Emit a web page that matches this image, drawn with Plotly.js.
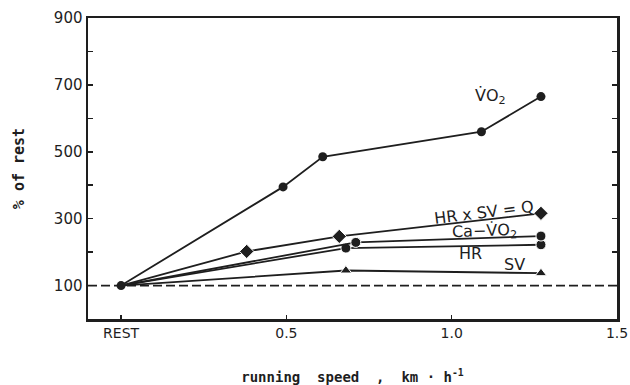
<!DOCTYPE html>
<html>
<head>
<meta charset="utf-8">
<script src="https://cdn.plot.ly/plotly-3.0.1.min.js"></script>
<style>html,body{margin:0;padding:0;background:#fff;}#chart{width:630px;height:385px;}</style>
</head>
<body>
<div id="chart"></div>
<script>
// ---- data ----
const speedVO2 = [0, 0.49, 0.61, 1.09, 1.27];
const vo2      = [100, 395, 485, 560, 665];
const speedQ   = [0, 0.38, 0.66, 1.27];
const cardiacQ = [100, 202, 247, 316];
const speedCa  = [0, 0.71, 1.27];
const caVO2    = [100, 229, 248];
const speedHR  = [0, 0.68, 1.27];
const hr       = [100, 212, 222];
const speedSV  = [0, 0.68, 1.27];
const sv       = [100, 145, 137];
const restLevel = [100, 100];
const restSpan  = [-0.1, 1.5];

const xTickVals = [0, 0.5, 1.0, 1.5];
const xTickText = ["REST", "0.5", "1.0", "1.5"];
const yTickVals = [100, 300, 500, 700, 900];
const yTickText = ["100", "300", "500", "700", "900"];

const ink = "#1e1e1e";
function hideFirst(n, s) { return Array.from({length: n}, (_, i) => i === 0 ? 0 : s); }

const traces = [
  {x: restSpan, y: restLevel, mode: "lines", line: {color: ink, width: 1.8, dash: "9px,4px"}, hoverinfo: "skip"},
  {x: speedSV, y: sv, mode: "lines+markers", line: {color: ink, width: 1.8},
   marker: {symbol: "triangle-up", size: hideFirst(speedSV.length, 10), color: ink, opacity: 1}},
  {x: speedHR, y: hr, mode: "lines+markers", line: {color: ink, width: 1.8},
   marker: {symbol: "circle", size: hideFirst(speedHR.length, 10), color: ink, opacity: 1}},
  {x: speedCa, y: caVO2, mode: "lines+markers", line: {color: ink, width: 1.8},
   marker: {symbol: "circle", size: hideFirst(speedCa.length, 10), color: ink, opacity: 1}},
  {x: speedQ, y: cardiacQ, mode: "lines+markers", line: {color: ink, width: 1.8},
   marker: {symbol: "diamond", size: hideFirst(speedQ.length, 11), color: ink, opacity: 1}},
  {x: speedVO2, y: vo2, mode: "lines+markers", line: {color: ink, width: 1.8},
   marker: {symbol: "circle", size: 9, color: ink, opacity: 1}}
];

const labFont = {family: "DejaVu Sans", size: 16, color: ink};
const layout = {
  width: 630, height: 385,
  margin: {l: 88, r: 13, t: 18, b: 66},
  paper_bgcolor: "#fff", plot_bgcolor: "#fff",
  showlegend: false,
  font: {family: "DejaVu Sans", color: ink},
  xaxis: {
    range: [-0.1, 1.5], tickvals: xTickVals, ticktext: xTickText,
    ticks: "inside", ticklen: 4, tickwidth: 1.5, tickcolor: ink,
    showline: true, linecolor: ink, linewidth: 2.5, mirror: true,
    showgrid: false, zeroline: false,
    tickfont: {family: "DejaVu Sans", size: 14, color: ink},
    title: {text: "running  speed  ,  km · h<sup>-1</sup>", standoff: 32,
            font: {family: "DejaVu Sans Mono", size: 14, color: ink, weight: "bold"}}
  },
  yaxis: {
    range: [0, 900], tickvals: yTickVals, ticktext: yTickText,
    ticks: "inside", ticklen: 5, tickwidth: 1.5, tickcolor: ink,
    minor: {tick0: 0, dtick: 100, ticks: "inside", ticklen: 5, tickwidth: 1.5, tickcolor: ink, showgrid: false},
    showline: true, linecolor: ink, linewidth: 2.5, mirror: "ticks",
    showgrid: false, zeroline: false,
    tickfont: {family: "DejaVu Sans", size: 15, color: ink},
    title: {text: "% of rest", standoff: 26,
            font: {family: "DejaVu Sans Mono", size: 15, color: ink, weight: "bold"}}
  },
  annotations: [
    {x: 1.116, y: 664, xref: "x", yref: "y", text: "V\u0307O<sub>2</sub>", showarrow: false, font: labFont},
    {x: 1.097, y: 317, xref: "x", yref: "y", text: "HR x SV = Q", showarrow: false, font: labFont, textangle: -7},
    {x: 1.100, y: 262, xref: "x", yref: "y", text: "Ca\u2212V\u0307O<sub>2</sub>", showarrow: false, font: labFont, textangle: -2},
    {x: 1.058, y: 195, xref: "x", yref: "y", text: "HR", showarrow: false, font: labFont},
    {x: 1.191, y: 162, xref: "x", yref: "y", text: "SV", showarrow: false, font: labFont}
  ]
};

Plotly.newPlot("chart", traces, layout, {staticPlot: true, displayModeBar: false});
</script>
</body>
</html>
